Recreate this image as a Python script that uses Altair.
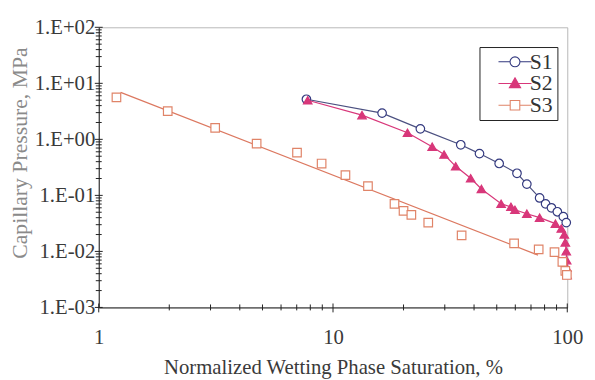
import json
import altair as alt
import pandas as pd

# ---------------- data ----------------
series_names = ["S1", "S2", "S3"]
marker_colors = ["#33397f", "#d8377a", "#e08468"]
line_colors = ["#4b5080", "#d8377a", "#dc7860"]
fill_colors = ["#ffffff", "#d8377a", "#ffffff"]
marker_shapes = ["circle", "triangle-up", "square"]

s1_x = [7.7, 16.2, 23.6, 35.1, 42.2, 51.2, 61.0, 67.2, 76.2, 80.8, 85.6, 90.7, 96.2, 99.0]
s1_y = [5.2, 2.94, 1.54, 0.80, 0.557, 0.371, 0.248, 0.159, 0.090, 0.0707, 0.060, 0.051, 0.0417, 0.0327]

s2_x = [7.8, 13.3, 20.8, 26.5, 29.8, 33.4, 38.7, 43.0, 52.2, 57.5, 59.8, 67.2, 76.2,
        89.0, 94.3, 97.1, 98.1, 99.0, 99.4, 99.6, 99.8]
s2_y = [4.98, 2.71, 1.31, 0.741, 0.536, 0.33, 0.202, 0.13, 0.0707, 0.0625, 0.0553, 0.0471, 0.040,
        0.0313, 0.0256, 0.0201, 0.0145, 0.0101, 0.0070, 0.0051, 0.0038]

s3_x = [1.19, 1.97, 3.14, 4.72, 7.02, 8.94, 11.3, 14.1, 18.3, 20.0, 21.6, 25.5, 35.4,
        59.3, 75.5, 88.2, 95.3, 98.1, 99.6]
s3_y = [5.6, 3.19, 1.6, 0.84, 0.58, 0.37, 0.23, 0.146, 0.0707, 0.053, 0.045, 0.0327, 0.0193,
        0.0139, 0.0109, 0.0097, 0.0065, 0.0045, 0.0038]

# S3 trend line (end points)
s3_fit_x = [1.24, 75.0]
s3_fit_y = [6.9, 0.0086]

y_decades = [0.001, 0.01, 0.1, 1, 10, 100]
y_labels = ["1.E-03", "1.E-02", "1.E-01", "1.E+00", "1.E+01", "1.E+02"]
x_decades = [1, 10, 100]
x_labels = ["1", "10", "100"]
minor_multipliers = [2, 3, 4, 5, 6, 7, 8, 9]

# legend symbols: line + marker
legend_paths = [
    "M-2,0H-0.6M0.6,0H2M0.6,0A0.6,0.6 0 1,1 -0.6,0A0.6,0.6 0 1,1 0.6,0Z",
    "M-2,0H2M0,-0.7L0.68,0.5L-0.68,0.5Z",
    "M-2,0H-0.58M0.58,0H2M-0.58,-0.58H0.58V0.58H-0.58Z",
]

# ---------------- tables ----------------
pts_rows = []
for name, xs, ys in zip(series_names, [s1_x, s2_x, s3_x], [s1_y, s2_y, s3_y]):
    for i, (a, b) in enumerate(zip(xs, ys)):
        pts_rows.append({"series": name, "x": a, "y": b, "idx": i})
pts = pd.DataFrame(pts_rows)

line_rows = []
for name, xs, ys in zip(series_names, [s1_x, s2_x, s3_fit_x], [s1_y, s2_y, s3_fit_y]):
    for i, (a, b) in enumerate(zip(xs, ys)):
        line_rows.append({"series": name, "x": a, "y": b, "idx": i})
lines = pd.DataFrame(line_rows)


def minors(decades):
    return [round(m * d, 6) for d in decades[:-1] for m in minor_multipliers]


x_minor = pd.DataFrame({"x": minors(x_decades)})
x_major = pd.DataFrame({"x": x_decades})
y_minor = pd.DataFrame({"y": minors(y_decades)})
y_major = pd.DataFrame({"y": y_decades})


def label_expr(decs, labs):
    d = json.dumps(decs)
    l = json.dumps(labs)
    return f"indexof({d}, datum.value) >= 0 ? {l}[indexof({d}, datum.value)] : ''"


SERIF = "'Liberation Serif', 'Times New Roman', Times, serif"
W, H = 475, 284

x_scale = alt.Scale(type="log", domain=[1, 100], nice=False)
y_scale = alt.Scale(type="log", domain=[0.001, 100], nice=False)

x_enc = alt.X(
    "x:Q",
    scale=x_scale,
    axis=alt.Axis(
        values=x_decades,
        labelExpr=label_expr(x_decades, x_labels),
        ticks=False,
        title="Normalized Wetting Phase Saturation, %",
        grid=False,
        labelFont=SERIF, labelFontSize=21, labelColor="#3a3a3a",
        titleFont=SERIF, titleFontSize=21, titleFontWeight="normal", titleColor="#3a3a3a",
        titleY=61, titleBaseline="middle",
        domainColor="#222222",
        labelPadding=20, labelFlush=False, labelOverlap=False,
    ),
)

y_enc = alt.Y(
    "y:Q",
    scale=y_scale,
    axis=alt.Axis(
        values=y_decades,
        labelExpr=label_expr(y_decades, y_labels),
        ticks=False,
        title="Capillary Pressure, MPa",
        grid=False,
        labelFont=SERIF, labelFontSize=21, labelColor="#3a3a3a",
        titleFont=SERIF, titleFontSize=22, titleFontWeight="normal", titleColor="#8a8a8a",
        titleX=-80, titleY=127, titleAlign="center", titleBaseline="middle",
        domainColor="#222222",
        labelPadding=4, labelOverlap=False, labelFlush=False,
    ),
)

line_layer = alt.Chart(lines).mark_line(strokeWidth=1.2).encode(
    x=x_enc, y=y_enc,
    color=alt.Color("series:N", scale=alt.Scale(domain=series_names, range=line_colors), legend=None),
    order=alt.Order("idx:Q"),
)

point_layer = alt.Chart(pts).mark_point(size=75, strokeWidth=1.2, opacity=1).encode(
    x=x_enc, y=y_enc,
    stroke=alt.Stroke("series:N", scale=alt.Scale(domain=series_names, range=marker_colors), legend=None),
    fill=alt.Fill("series:N", scale=alt.Scale(domain=series_names, range=fill_colors), legend=None),
    shape=alt.Shape("series:N", scale=alt.Scale(domain=series_names, range=marker_shapes), legend=None),
)

# axis tick marks (minor and decade) drawn through the shared log scales
TICK = "#222222"
x_minor_ticks = alt.Chart(x_minor).mark_rule(color=TICK, strokeWidth=1).encode(
    x=x_enc, y=alt.value(H - 3), y2=alt.value(H + 3))
x_major_ticks = alt.Chart(x_major).mark_rule(color=TICK, strokeWidth=1).encode(
    x=x_enc, y=alt.value(H - 4), y2=alt.value(H + 5))
y_minor_ticks = alt.Chart(y_minor).mark_rule(color=TICK, strokeWidth=1).encode(
    y=y_enc, x=alt.value(-3), x2=alt.value(3))
y_major_ticks = alt.Chart(y_major).mark_rule(color=TICK, strokeWidth=1).encode(
    y=y_enc, x=alt.value(-4), x2=alt.value(4))

leg = alt.Legend(
    title=None, orient="none", legendX=386, legendY=20,
    strokeColor="#222222", padding=4,
    symbolSize=280, symbolStrokeWidth=1.1, symbolOffset=21,
    labelFont=SERIF, labelFontSize=22, labelColor="#333333", labelOffset=4,
    rowPadding=0,
)

legend_layer = alt.Chart(pts).transform_filter("datum.series == 'none'").mark_point(
    size=280, strokeWidth=1.1, opacity=1
).encode(
    x=x_enc, y=y_enc,
    stroke=alt.Stroke("series:N", scale=alt.Scale(domain=series_names, range=marker_colors), legend=leg),
    fill=alt.Fill("series:N", scale=alt.Scale(domain=series_names, range=fill_colors), legend=leg),
    shape=alt.Shape("series:N", scale=alt.Scale(domain=series_names, range=legend_paths), legend=leg),
)

chart = alt.layer(
    line_layer, point_layer, x_minor_ticks, x_major_ticks, y_minor_ticks, y_major_ticks, legend_layer
).resolve_scale(
    color="independent", stroke="independent", fill="independent", shape="independent"
).properties(
    width=W, height=H,
    padding={"left": 0, "top": 6, "right": 4, "bottom": 0},
    background="white",
).configure_view(stroke="#b8b8b8", strokeWidth=1)

chart.save("out.html", embed_options={"renderer": "svg", "actions": False})
